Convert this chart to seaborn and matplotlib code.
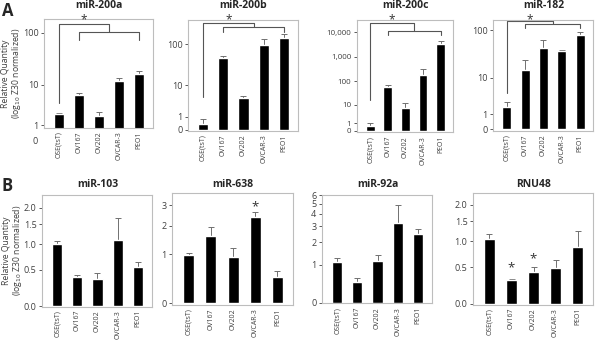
import numpy as np
import matplotlib
matplotlib.use("Agg")
import matplotlib.pyplot as plt
import matplotlib.transforms as mtransforms
import pandas as pd
import seaborn as sns

cells = ["OSE(tsT)", "OV167", "OV202", "OVCAR-3", "PEO1"]

# (bar tops and upper error bars)
mir200a = [2.2, 6.3, 2.0, 12.3, 16.4]
err200a = [0.2, 0.4, 0.5, 1.6, 2.2]
mir200b = [0.39, 46.6, 4.4, 94.5, 144]
err200b = [0.37, 7, 0.7, 42, 27]
mir200c = [0.57, 60, 7.5, 173, 3260]
err200c = [0.45, 13, 5, 135, 1250]
mir182 = [1.82, 14.6, 42.7, 37.5, 77.7]
err182 = [0.74, 9.3, 20, 1, 12]
mir103 = [1.01, 0.38, 0.36, 1.09, 0.54]
err103 = [0.06, 0.03, 0.08, 0.58, 0.1]
mir638 = [0.99, 1.61, 0.92, 2.38, 0.45]
err638 = [0.06, 0.34, 0.27, 0.27, 0.12]
mir92a = [1.09, 0.47, 1.13, 3.25, 2.47]
err92a = [0.15, 0.1, 0.23, 1.65, 0.33]
rnu48 = [1.04, 0.30, 0.42, 0.49, 0.88]
err_rnu48 = [0.14, 0.02, 0.08, 0.13, 0.36]

titles = ["miR-200a", "miR-200b", "miR-200c", "miR-182",
          "miR-103", "miR-638", "miR-92a", "RNU48"]
wartosci = [mir200a, mir200b, mir200c, mir182, mir103, mir638, mir92a, rnu48]
bledy = [err200a, err200b, err200c, err182, err103, err638, err92a, err_rnu48]

ylims = [(0.77, 180), (-0.07, 375), (-0.16, 31000), (-0.077, 160),
         (-0.005, 2.46), (-0.024, 3.77), (-0.01, 6.05), (-0.01, 2.42)]
yticks = [[1, 10, 100], [0, 1, 10, 100], [0, 1, 10, 100, 1000, 10000], [0, 1, 10, 100],
          [0, 0.5, 1, 1.5, 2], [0, 1, 2, 3], [0, 1, 2, 3, 4, 5, 6], [0, 0.5, 1, 1.5, 2]]
yticklabels = [["1", "10", "100"], ["0", "1", "10", "100"],
               ["0", "1", "10", "100", "1,000", "10,000"], ["0", "1", "10", "100"],
               ["0.0", "0.5", "1.0", "1.5", "2.0"], ["0", "1", "2", "3"],
               ["0", "1", "2", "3", "4", "5", "6"], ["0.0", "0.5", "1.0", "1.5", "2.0"]]

# bracket geometry in axes fraction: (leg bottom, top line, sub line, sub legs)
nawiasy = {0: (0.229, 0.951, 0.88, 0.807),
           1: (0.309, 0.976, 0.94, 0.895),
           2: (0.289, 0.97, 0.902, 0.867),
           3: (0.342, 0.99, 0.965, 0.925)}

# single stars: panel -> list of (category index, y in axes fraction)
gwiazdki = {5: [(3, 0.88)], 7: [(1, 0.33), (2, 0.41)]}

pozycje = [[0.0733, 0.6235, 0.1817, 0.3206], [0.3133, 0.6147, 0.1833, 0.3265],
           [0.595, 0.6103, 0.16, 0.3309], [0.8217, 0.6147, 0.1667, 0.3265],
           [0.07, 0.0985, 0.1833, 0.328], [0.2867, 0.1029, 0.2017, 0.3294],
           [0.5367, 0.1074, 0.1833, 0.3191], [0.7883, 0.1044, 0.2, 0.3279]]


def fwd(x):
    return np.log10(np.maximum(np.asarray(x, dtype=float) + 1, 1e-6))


def inv(y):
    return 10 ** np.asarray(y, dtype=float) - 1


sns.set_style("white")
plt.rcParams['font.family'] = ['Open Sans', 'DejaVu Sans']

szary = '#404040'
fig = plt.figure(figsize=(6, 3.4), dpi=100)

for i in range(8):
    ax = fig.add_axes(pozycje[i])
    df = pd.DataFrame({'cell': cells, 'value': wartosci[i]})
    sns.barplot(data=df, x='cell', y='value', ax=ax, color='black',
                saturation=1, width=0.5, errorbar=None)
    ax.errorbar(range(len(cells)), wartosci[i], yerr=[np.zeros(len(cells)), bledy[i]],
                fmt='none', ecolor='#707070', elinewidth=0.7, capsize=2,
                capthick=0.7, zorder=0.5)
    ax.set_yscale('function', functions=(fwd, inv))
    ax.set_ylim(*ylims[i])
    ax.set_xlim(-0.75, 4.7)
    ax.set_yticks(yticks[i])
    ax.set_yticklabels(yticklabels[i])
    ax.minorticks_off()
    ax.set_xlabel('')
    ax.set_ylabel('')
    ax.tick_params(axis='y', labelsize=6.5 if i != 2 else 5.8, colors=szary,
                   length=2.5, width=0.6, direction='out', left=True, pad=1.5)
    ax.tick_params(axis='x', labelsize=5, colors=szary, length=0, pad=2.5,
                   labelrotation=90)
    for s in ax.spines.values():
        s.set_color('#bdbdbd')
        s.set_linewidth(0.8)

    # title and bracket star placed at fixed heights of the figure
    tr_fig = mtransforms.blended_transform_factory(ax.transData, fig.transFigure)
    ax.text(2, 1 - 6 / 340 if i < 4 else 1 - 185 / 340, titles[i], transform=tr_fig,
            ha='center', va='center', fontsize=7.5, weight='bold')

    tr = ax.get_xaxis_transform()
    if i in nawiasy:
        dol, gora, sub, nogi = nawiasy[i]
        kol = '#555555'
        ax.plot([0, 0, 2.5, 2.5], [dol, gora, gora, sub], color=kol, lw=0.8,
                transform=tr, clip_on=False)
        ax.plot([1, 1, 4, 4], [nogi, sub, sub, nogi], color=kol, lw=0.8,
                transform=tr, clip_on=False)
        ax.text(1.25, 1 - 19.5 / 340, '*', transform=tr_fig, ha='center', va='center',
                fontsize=8.5, color='#333333', clip_on=False)
    if i in gwiazdki:
        for xk, yk in gwiazdki[i]:
            ax.text(xk, yk, '*', transform=tr, ha='center', va='center',
                    fontsize=9.5, color='#333333')
    if i == 0:
        # the "0" tick sits below the plotting area in the original
        ax.text(-0.06, 0, '0', transform=ax.get_yaxis_transform(), ha='right',
                va='center', fontsize=6.5, color=szary, clip_on=False)
    if i in (0, 4):
        ax.set_ylabel('Relative Quantity\n(log$_{10}$ Z30 normalized)',
                      fontsize=6.2, color=szary, linespacing=1.0)
        ax.yaxis.set_label_coords(-0.19 if i == 0 else -0.168, 0.5)

fig.text(0.003, 0.995, 'A', fontsize=12, weight='bold', va='top')
fig.text(0.003, 0.478, 'B', fontsize=12, weight='bold', va='top')

fig.savefig('out.png', dpi=100)
